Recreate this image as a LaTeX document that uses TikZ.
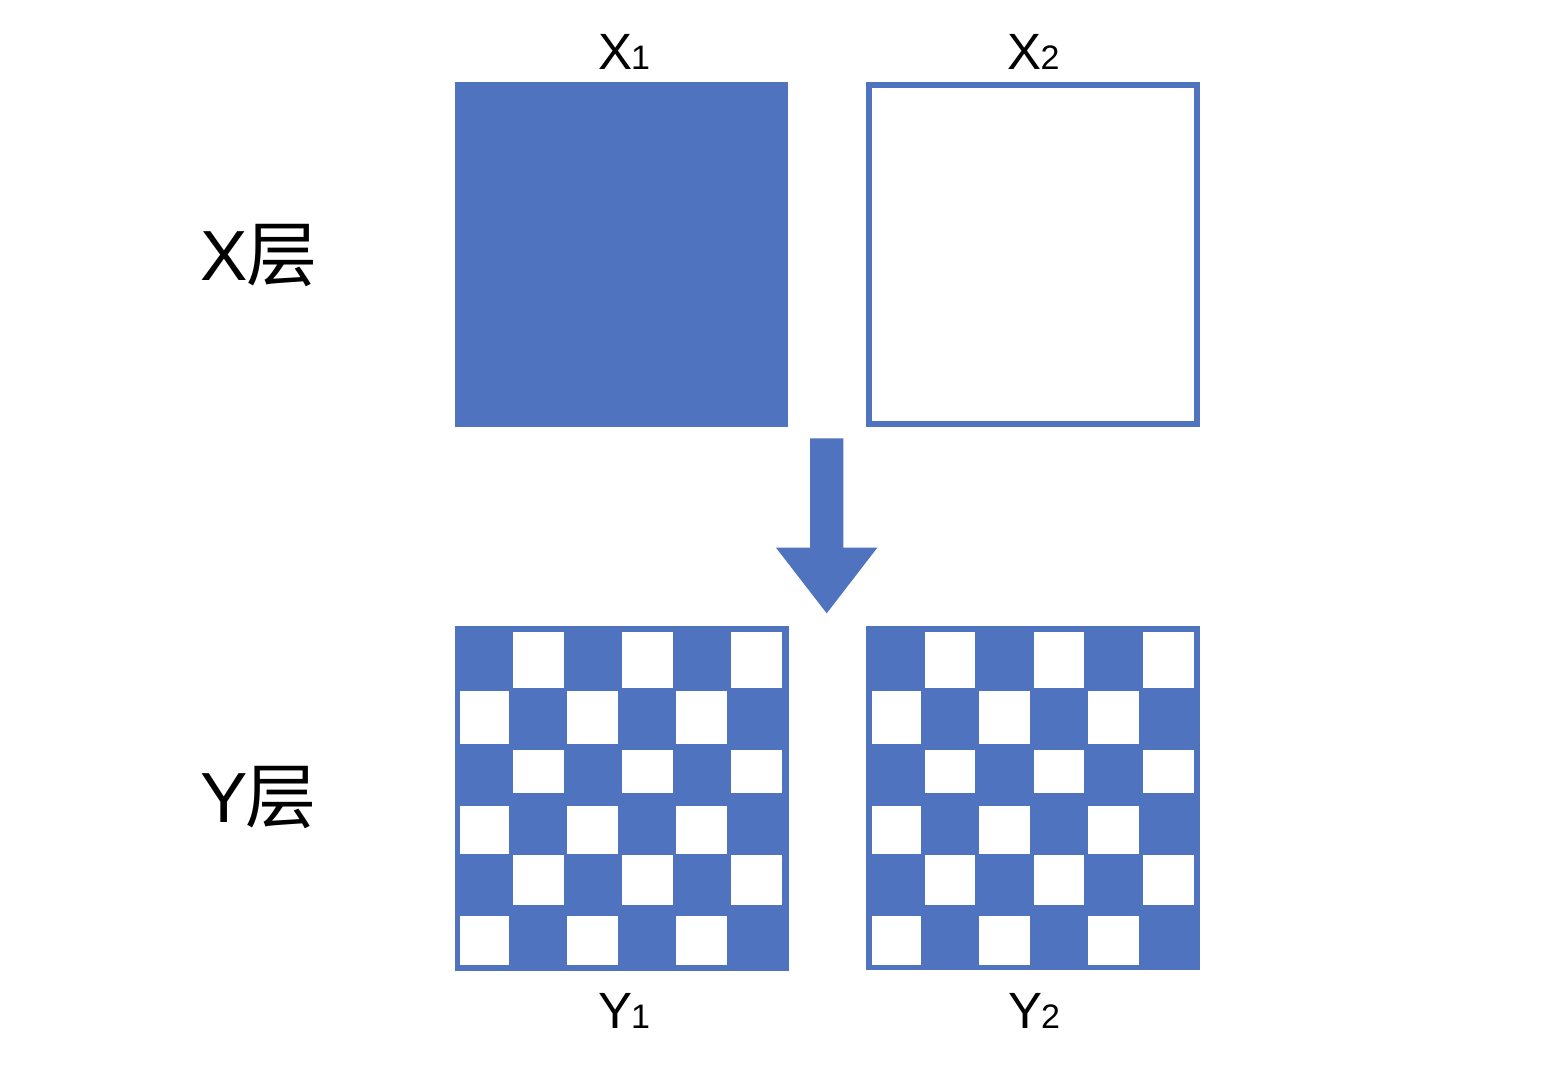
\documentclass[tikz,border=0pt]{standalone}
\usepackage{fontspec}
\setmainfont{Liberation Sans}
\newfontfamily\cjk{Noto Sans CJK SC}
\definecolor{boxblue}{RGB}{79,115,191}
\newcommand{\digitsz}[1]{{\fontsize{34}{34}\selectfont #1}}
\begin{document}
\begin{tikzpicture}[x=1pt,y=-1pt,
  solidbox/.style={fill=boxblue, draw=none, inner sep=0pt, outer sep=0pt},
  openbox/.style={draw=boxblue, fill=white, line width=6pt, inner sep=0pt, outer sep=0pt},
  lbl/.style={anchor=base west, inner sep=0pt, font=\fontsize{51}{51}\selectfont},
  layerlbl/.style={anchor=base west, inner sep=0pt, font=\fontsize{71}{71}\selectfont},
  cell/.style={fill=white}]
\useasboundingbox (0,0) rectangle (1552,1080);

% X layer boxes
\node[solidbox, minimum width=333pt, minimum height=345pt] (X1) at (621.5,254.5) {};
\node[openbox, minimum width=328pt, minimum height=339pt] (X2) at (1033,254.5) {};

% Y layer boxes
\node[solidbox, minimum width=334pt, minimum height=345pt] (Y1) at (621.5,798) {};
\node[solidbox, minimum width=334pt, minimum height=344.5pt] (Y2) at (1033,797.75) {};

% white cells: odd rows and even rows
\foreach \ya/\yb in {631.7/688.3, 750.3/793.3, 855.3/905.3}{
  \foreach \xa/\xb in {512.7/563.7, 622/672.7, 731/782.3, 924.7/975.3, 1033.7/1084.3, 1143/1194}{
    \fill[cell] (\xa,\ya) rectangle (\xb,\yb);
  }
}
\foreach \ya/\yb in {691.3/743.7, 805.7/854.0, 916.0/964.7}{
  \foreach \xa/\xb in {460.3/508.8, 567.2/618, 676.3/727.2, 872/921, 979/1030, 1088.2/1138.8}{
    \fill[cell] (\xa,\ya) rectangle (\xb,\yb);
  }
}

% arrow
\fill[boxblue] (810,438.3) -- (843.3,438.3) -- (843.3,547.7) -- (877.3,547.7)
  -- (826.7,613.3) -- (776,547.7) -- (810,547.7) -- cycle;

% labels
\node[lbl] (lx1) at (598,69.3) {X\kern-1pt\digitsz{1}};
\node[lbl] (lx2) at (1007.5,69.3) {X\kern-1pt\digitsz{2}};
\node[lbl] (ly1) at (598,1028.3) {Y\kern-1pt\digitsz{1}};
\node[lbl] (ly2) at (1008,1028.3) {Y\kern-1pt\digitsz{2}};

\node[layerlbl] (lx) at (200.5,280) {X\kern-2pt{\cjk 层}};
\node[layerlbl] (ly) at (200,822.7) {Y\kern-2pt{\cjk 层}};
\end{tikzpicture}
\end{document}
